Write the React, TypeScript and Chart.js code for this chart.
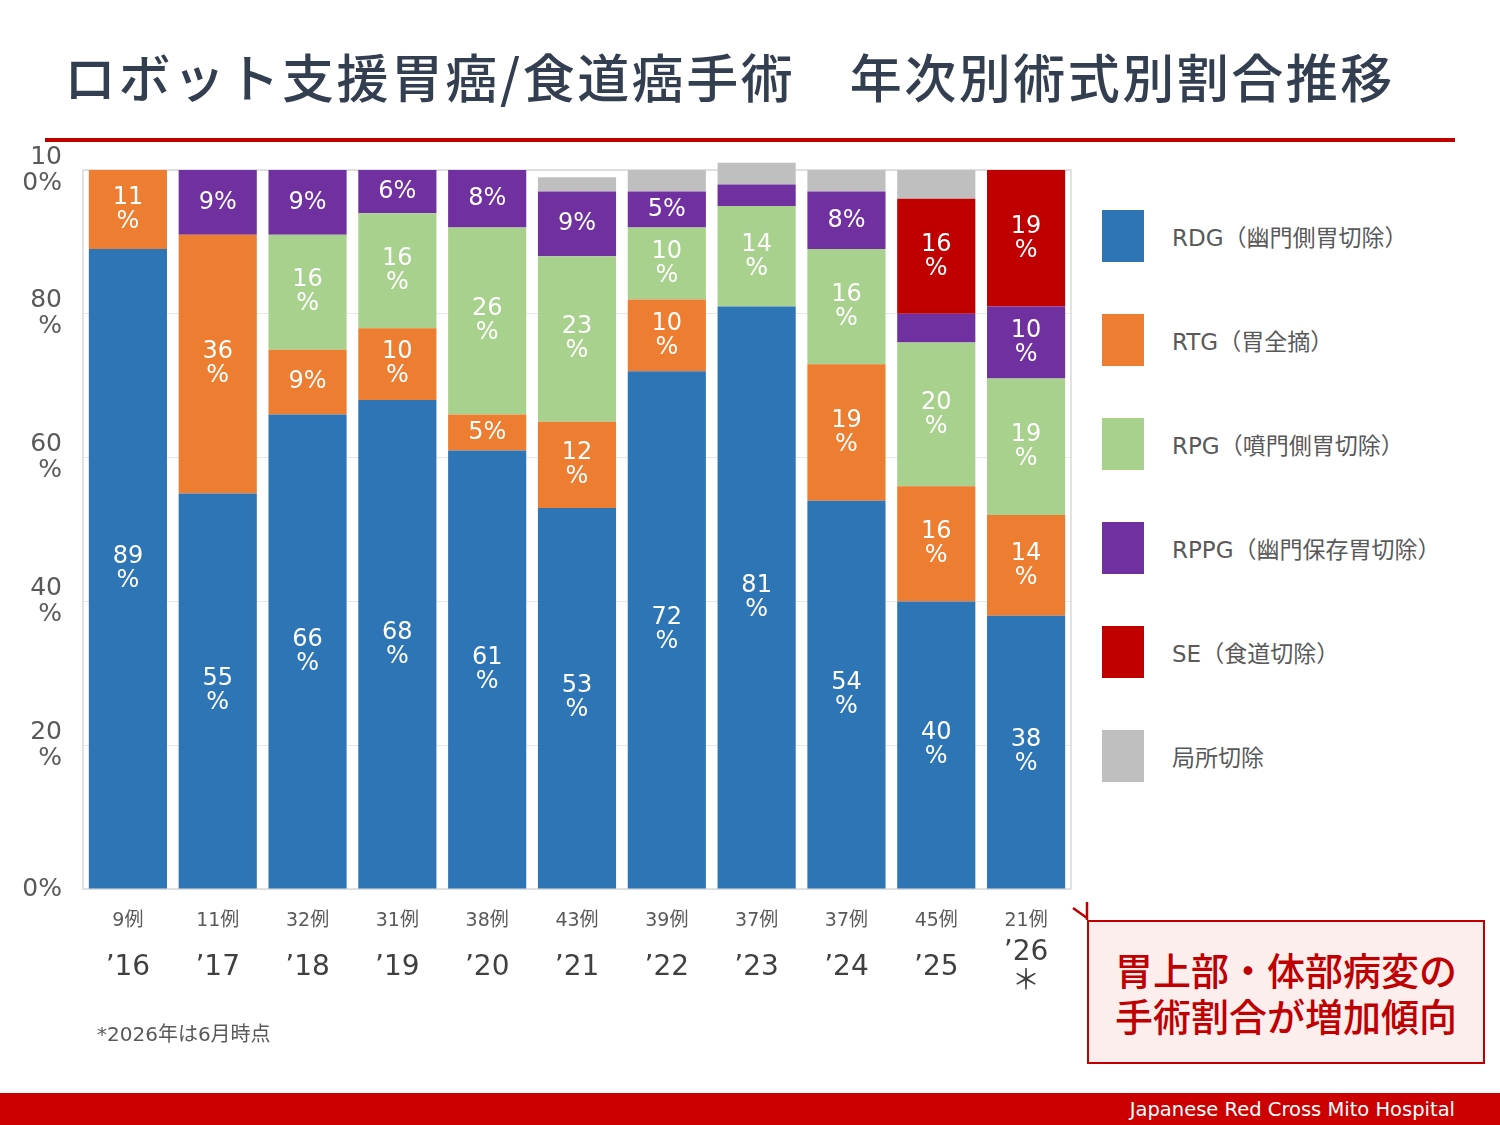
import { useEffect, useRef } from 'react';
import { Chart, registerables, Plugin } from 'chart.js';

Chart.register(...registerables);

const FONT = '"Noto Sans CJK JP", "Noto Sans", sans-serif';
// wider Latin face for digits and roman text, CJK glyphs fall back to Noto
const FONT_NUM = '"DejaVu Sans", "Noto Sans CJK JP", sans-serif';

// years on the second x axis, case counts on the first one
const years: (string | string[])[] = ['’16', '’17', '’18', '’19', '’20', '’21', '’22', '’23', '’24', '’25', ['’26', '＊']];
const caseCounts = ['9例', '11例', '32例', '31例', '38例', '43例', '39例', '37例', '37例', '45例', '21例'];

// percentages per procedure (bottom to top)
const rdg = [89, 55, 66, 68, 61, 53, 72, 81, 54, 40, 38];
const rtg = [11, 36, 9, 10, 5, 12, 10, 0, 19, 16, 14];
const rpg = [0, 0, 16, 16, 26, 23, 10, 14, 16, 20, 19];
const rppg = [0, 9, 9, 6, 8, 9, 5, 3, 8, 4, 10];
const se = [0, 0, 0, 0, 0, 0, 0, 0, 0, 16, 19];
const local = [0, 0, 0, 0, 0, 2, 3, 3, 3, 4, 0];

const seriesNames = ['RDG（幽門側胃切除）', 'RTG（胃全摘）', 'RPG（噴門側胃切除）', 'RPPG（幽門保存胃切除）', 'SE（食道切除）', '局所切除'];
const seriesColors = ['#2e75b6', '#ed7d31', '#a9d18e', '#7030a0', '#c00000', '#bfbfbf'];
const seriesValues = [rdg, rtg, rpg, rppg, se, local];

const yTicks = [0, 20, 40, 60, 80, 100];
const yTickLabels: (string | string[])[] = ['0%', ['20', '%'], ['40', '%'], ['60', '%'], ['80', '%'], ['10', '0%']];

// white value labels centred in each segment (small ones are skipped)
const segmentLabels: Plugin<'bar'> = {
    id: 'segmentLabels',
    afterDatasetsDraw(chart) {
        const { ctx } = chart;
        ctx.save();
        ctx.fillStyle = '#ffffff';
        ctx.font = `24px ${FONT_NUM}`;
        ctx.textAlign = 'center';
        ctx.textBaseline = 'middle';
        chart.data.datasets.forEach((ds, i) => {
            const meta = chart.getDatasetMeta(i);
            meta.data.forEach((bar, j) => {
                const v = ds.data[j] as number;
                if (!v || v < 5) return;
                const { x, y, base } = bar.getProps(['x', 'y', 'base'], true) as any;
                const cy = (y + base) / 2;
                if (v < 10) {
                    ctx.fillText(`${v}%`, x, cy);
                } else {
                    ctx.fillText(`${v}`, x, cy - 12);
                    ctx.fillText('%', x, cy + 12);
                }
            });
        });
        ctx.restore();
    },
};

// thin frame round the plot area
const plotFrame: Plugin<'bar'> = {
    id: 'plotFrame',
    beforeDatasetsDraw(chart) {
        const { ctx, chartArea: a } = chart;
        ctx.save();
        ctx.strokeStyle = '#d9d9d9';
        ctx.lineWidth = 1.5;
        ctx.strokeRect(a.left, a.top, a.width, a.height);
        ctx.restore();
    },
};

const StackedChart = () => {
    const canvasRef = useRef<HTMLCanvasElement | null>(null);
    const chartInstance = useRef<Chart<'bar'> | null>(null);

    useEffect(() => {
        if (!canvasRef.current) return;
        if (chartInstance.current) chartInstance.current.destroy();

        chartInstance.current = new Chart(canvasRef.current, {
            type: 'bar',
            data: {
                labels: caseCounts,
                datasets: seriesValues.map((values, i) => ({
                    label: seriesNames[i],
                    data: values,
                    backgroundColor: seriesColors[i],
                    borderWidth: 0,
                    barPercentage: 0.87,
                    categoryPercentage: 1,
                    clip: false as any,
                })),
            },
            options: {
                responsive: true,
                maintainAspectRatio: false,
                animation: false,
                layout: { padding: { top: 30, right: 1, left: 0, bottom: 0 } },
                plugins: {
                    legend: { display: false },
                    tooltip: { enabled: false },
                },
                scales: {
                    x: {
                        stacked: true,
                        offset: true,
                        grid: { display: false, drawTicks: false },
                        border: { display: false },
                        ticks: { color: '#595959', font: { family: FONT_NUM, size: 19 }, padding: 21 },
                        afterFit: (s) => { s.height = 50; },
                    },
                    x2: {
                        type: 'category',
                        labels: years as any,
                        position: 'bottom',
                        offset: true,
                        grid: { display: false, drawTicks: false },
                        border: { display: false },
                        ticks: {
                            color: '#404040',
                            font: { family: FONT_NUM, size: 28, lineHeight: 1.07 },
                            padding: 14,
                            crossAlign: 'center',
                        },
                        afterFit: (s) => { s.height = 80; },
                    },
                    y: {
                        stacked: true,
                        min: 0,
                        max: 100,
                        afterBuildTicks: (s) => { s.ticks = yTicks.map((v) => ({ value: v })); },
                        ticks: {
                            color: '#595959',
                            font: { family: FONT_NUM, size: 25, lineHeight: 1.04 },
                            padding: 21,
                            callback: (v) => yTickLabels[yTicks.indexOf(Number(v))],
                        },
                        grid: { color: '#e8e8e8', drawTicks: false },
                        border: { display: false },
                        afterFit: (s) => {
                            s.width = 83;
                            // the top tick label may overhang; keep the plot top fixed
                            s.paddingTop = 0;
                            s.paddingBottom = 0;
                        },
                    },
                },
            },
            plugins: [plotFrame, segmentLabels],
        });

        return () => {
            if (chartInstance.current) {
                chartInstance.current.destroy();
                chartInstance.current = null;
            }
        };
    }, []);

    return (
        <div style={{ position: 'absolute', left: 0, top: 140, width: 1072, height: 879 }}>
            <canvas ref={canvasRef} />
        </div>
    );
};

const App = () => {
    useEffect(() => {
        document.body.style.margin = '0';
    }, []);

    return (
        <div style={{ position: 'relative', width: 1500, height: 1125, background: '#fff', fontFamily: FONT, overflow: 'hidden' }}>
            <div style={{ position: 'absolute', left: 64, top: 38, fontSize: 52, fontWeight: 500, color: '#333f50', letterSpacing: 2.5, whiteSpace: 'nowrap', lineHeight: '76px' }}>
                ロボット支援胃癌/食道癌手術　年次別術式別割合推移
            </div>
            <div style={{ position: 'absolute', left: 45, top: 138, width: 1410, height: 4, background: '#c00000' }} />

            <StackedChart />

            {/* legend */}
            {seriesNames.map((name, i) => (
                <div key={name} style={{ position: 'absolute', left: 1102, top: 210 + i * 104, height: 52, display: 'flex', alignItems: 'center' }}>
                    <div style={{ width: 42, height: 52, background: seriesColors[i] }} />
                    <div style={{ marginLeft: 28, fontSize: 23, fontFamily: FONT_NUM, color: '#595959', whiteSpace: 'nowrap' }}>{name}</div>
                </div>
            ))}

            <div style={{ position: 'absolute', left: 97, top: 1018, fontSize: 20, fontFamily: FONT_NUM, color: '#595959' }}>*2026年は6月時点</div>

            {/* callout */}
            <svg style={{ position: 'absolute', left: 1068, top: 898 }} width={24} height={26}>
                <path d="M19 4 L19 22 M5 10 L19 20" stroke="#c00000" strokeWidth={2.5} fill="none" />
            </svg>
            <div style={{ position: 'absolute', left: 1087, top: 920, width: 398, height: 144, boxSizing: 'border-box', border: '2.5px solid #c00000', background: '#fdeeee', display: 'flex', alignItems: 'center', justifyContent: 'center', textAlign: 'center', color: '#c00000', fontSize: 38, fontWeight: 500, lineHeight: '46px' }}>
                胃上部・体部病変の<br />手術割合が増加傾向
            </div>

            <div style={{ position: 'absolute', left: 0, top: 1093, width: 1500, height: 32, background: '#cc0000' }}>
                <div style={{ position: 'absolute', right: 45, top: 0, lineHeight: '34px', fontSize: 19.5, fontFamily: FONT_NUM, color: '#ffffff' }}>Japanese Red Cross Mito Hospital</div>
            </div>
        </div>
    );
};

export default App;
